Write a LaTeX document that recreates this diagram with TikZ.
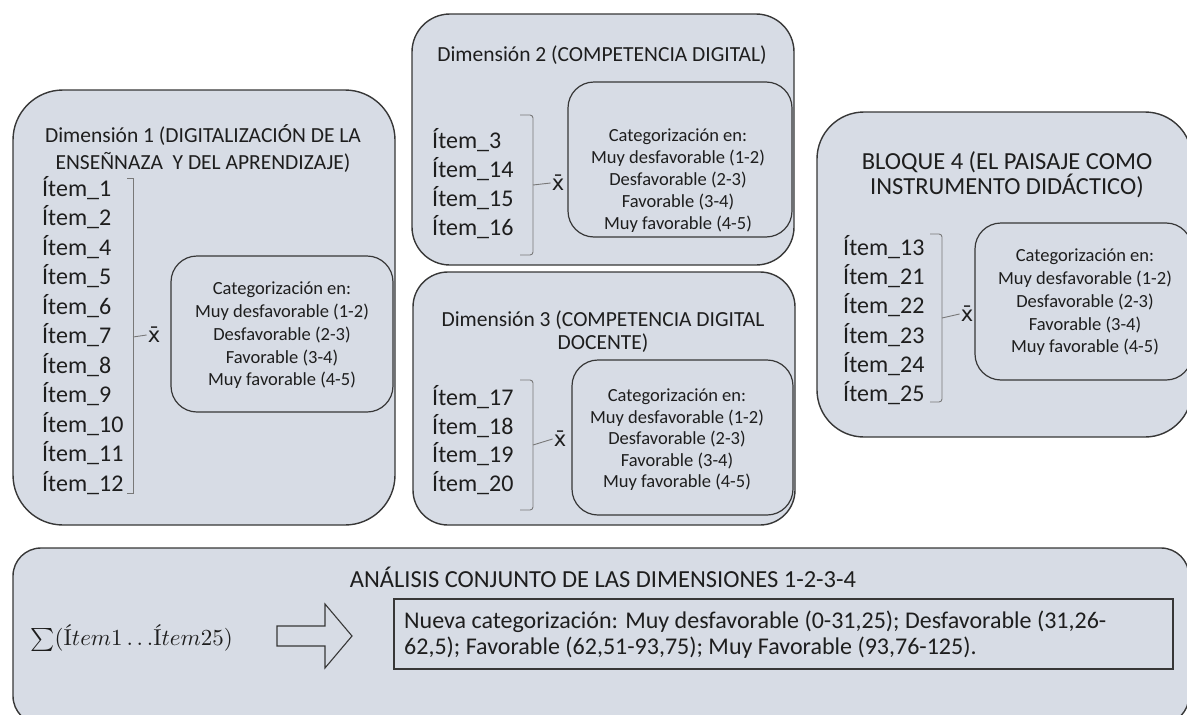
\documentclass[tikz,border=0pt]{standalone}
\usepackage{fontspec}
\setmainfont{Carlito}
\newfontfamily\lmr{Latin Modern Roman}
\newfontfamily\dejavu{DejaVu Sans}
\definecolor{boxfill}{RGB}{215,220,229}
\definecolor{boxline}{RGB}{55,55,55}
\definecolor{brkline}{RGB}{120,120,120}
\definecolor{txt}{RGB}{30,30,30}
\newcommand\xbarsym{{\dejavu x̄}}
\tikzset{
  outerbox/.style={draw=boxline, fill=boxfill, line width=1.4pt, inner sep=0pt},
  innerbox/.style={draw=boxline, fill=boxfill, line width=1.2pt, inner sep=0pt, rounded corners=26pt},
  itemtxt/.style={anchor=west, inner sep=0pt, text=txt, font=\fontsize{24}{29}\selectfont},
  cattxt/.style={align=center, inner sep=0pt, text=txt},
  ttl/.style={align=center, inner sep=0pt, text=txt},
  brk/.style={draw=brkline, line width=0.9pt},
  xbar/.style={inner sep=1pt, text=txt, font=\fontsize{21}{24}\selectfont},
}
\begin{document}
\begin{tikzpicture}[x=1pt,y=-1pt]
\useasboundingbox (0,0) rectangle (1187,715);
\clip (0,0) rectangle (1187,715);
% outer boxes
\node[outerbox, rounded corners=50pt, minimum width=382pt, minimum height=435pt] (b1) at (204,307.5) {};
\node[outerbox, rounded corners=38pt, minimum width=382pt, minimum height=251pt] (b2) at (603,139.5) {};
\node[outerbox, rounded corners=35pt, minimum width=382pt, minimum height=253pt] (b3) at (604,398.5) {};
\node[outerbox, rounded corners=47pt, minimum width=375pt, minimum height=325pt] (b4) at (1004.5,274.5) {};
\node[outerbox, rounded corners=28pt, minimum width=1176pt, minimum height=176pt] (b5) at (601,636) {};
% inner boxes
\node[innerbox, minimum width=222pt, minimum height=156pt] (i1) at (282,334) {};
\node[innerbox, minimum width=224pt, minimum height=155pt] (i2) at (680,159.5) {};
\node[innerbox, minimum width=221pt, minimum height=155pt] (i3) at (682.5,437.5) {};
\node[innerbox, minimum width=217pt, minimum height=157pt] (i4) at (1083.5,301.5) {};
\node[draw=boxline, line width=1.1pt, inner sep=0pt, minimum width=779pt, minimum height=70pt] (r5) at (783.5,634) {};
% titles
\node[ttl, font=\fontsize{21.5}{26.7}\selectfont] (t1) at (203,148.5) {Dimensión 1 (DIGITALIZACIÓN DE LA\\ENSEÑNAZA \ Y DEL APRENDIZAJE)};
\node[ttl, font=\fontsize{21.5}{26}\selectfont] (t2) at (602,55) {Dimensión 2 (COMPETENCIA DIGITAL)};
\node[ttl, font=\fontsize{21.5}{23.5}\selectfont] (t3) at (603,331.5) {Dimensión 3 (COMPETENCIA DIGITAL\\DOCENTE)};
\node[ttl, font=\fontsize{24.5}{25}\selectfont] (t4) at (1007,174.5) {BLOQUE 4 (EL PAISAJE COMO\\INSTRUMENTO DIDÁCTICO)};
\node[ttl, font=\fontsize{24.5}{26}\selectfont] (t5) at (603,577) {ANÁLISIS CONJUNTO DE LAS DIMENSIONES 1-2-3-4};
% category texts
\node[cattxt, font=\fontsize{18.5}{22.75}\selectfont] (c1) at (282,335.5) {Categorización en:\\Muy desfavorable (1-2)\\Desfavorable (2-3)\\Favorable (3-4)\\Muy favorable (4-5)};
\node[cattxt, font=\fontsize{18.5}{22}\selectfont] (c2) at (678,181) {Categorización en:\\Muy desfavorable (1-2)\\Desfavorable (2-3)\\Favorable (3-4)\\Muy favorable (4-5)};
\node[cattxt, font=\fontsize{18.5}{21.5}\selectfont] (c3) at (677,440) {Categorización en:\\Muy desfavorable (1-2)\\Desfavorable (2-3)\\Favorable (3-4)\\Muy favorable (4-5)};
\node[cattxt, font=\fontsize{18.5}{22.75}\selectfont] (c4) at (1085,302.5) {Categorización en:\\Muy desfavorable (1-2)\\Desfavorable (2-3)\\Favorable (3-4)\\Muy favorable (4-5)};
% items
\foreach \t [count=\i] in {1,2,4,5,6,7,8,9,10,11,12}
  \node[itemtxt] (a\i) at (42,{188+(\i-1)*29.5}) {Ítem\_\t};
\foreach \t [count=\i] in {3,14,15,16}
  \node[itemtxt] (bb\i) at (432,{140+(\i-1)*29}) {Ítem\_\t};
\foreach \t [count=\i] in {17,18,19,20}
  \node[itemtxt] (cc\i) at (432,{397+(\i-1)*28.7}) {Ítem\_\t};
\foreach \t [count=\i] in {13,21,22,23,24,25}
  \node[itemtxt] (dd\i) at (843,{247+(\i-1)*29.2}) {Ítem\_\t};
% brackets and x-bar
\node[xbar] (x1) at (154,335) {\xbarsym};
\draw[brk] (127,178) -- (133,178) -- (133,493) -- (127,493);
\draw[brk] (133,337) -- (x1.west);
\node[xbar] (x2) at (558,183) {\xbarsym};
\draw[brk, rounded corners=3pt] (520,115) -- (533,115) -- (533,255) -- (520,255);
\draw[brk] (533,185) -- (x2.west);
\node[xbar] (x3) at (560,439) {\xbarsym};
\draw[brk, rounded corners=3pt] (520,380) -- (533,380) -- (533,510) -- (520,510);
\draw[brk] (533,445) -- (x3.west);
\node[xbar] (x4) at (967,314) {\xbarsym};
\draw[brk, rounded corners=3pt] (930,234) -- (942,234) -- (942,402) -- (930,402);
\draw[brk] (942,318) -- (x4.west);
% bottom box content
\node[anchor=west, inner sep=0pt, text=txt, scale=2.3] (sig) at (30,638) {$\textstyle\sum(${\lmr Í}$tem1\ldots${\lmr Í}$tem25)$};
\draw[draw=boxline, fill=boxfill, line width=1.1pt] (277,626) -- (325,626) -- (325,604) -- (352,636) -- (325,668) -- (325,646) -- (277,646) -- cycle;
\node[anchor=west, align=left, inner sep=0pt, text=txt, font=\fontsize{24}{26}\selectfont] (nc) at (404,635) {Nueva categorización: Muy desfavorable (0-31,25); Desfavorable (31,26-\\62,5); Favorable (62,51-93,75); Muy Favorable (93,76-125).};
\end{tikzpicture}
\end{document}
